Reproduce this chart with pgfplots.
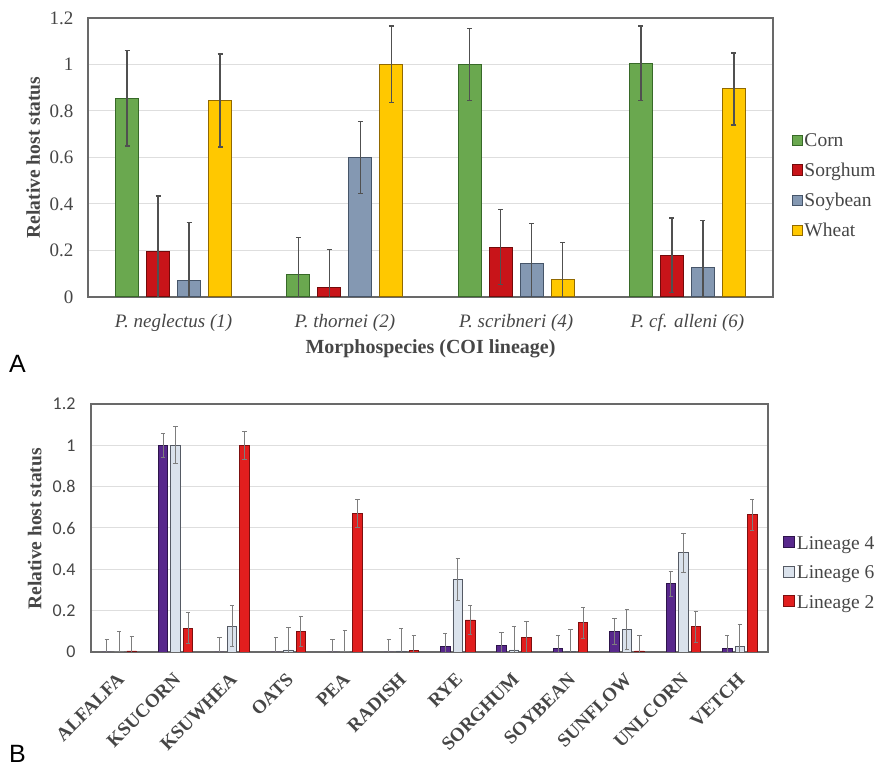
\documentclass[border=0pt]{standalone}
\usepackage{pgfplots}
\pgfplotsset{compat=1.18}
\usepackage{pgfplotstable}
\usepackage{fontspec}
\setmainfont{Liberation Serif}
\newfontfamily\carlito{Carlito}
\newfontfamily\arialf{Liberation Sans}

\definecolor{corn}{RGB}{106,168,79}
\definecolor{cornd}{RGB}{55,105,40}
\definecolor{sorg}{RGB}{200,20,25}
\definecolor{sorgd}{RGB}{115,10,10}
\definecolor{soy}{RGB}{132,152,178}
\definecolor{soyd}{RGB}{70,85,105}
\definecolor{wheat}{RGB}{255,200,0}
\definecolor{wheatd}{RGB}{145,105,0}
\definecolor{lin4}{RGB}{88,40,140}
\definecolor{lin4d}{RGB}{45,20,75}
\definecolor{lin6}{RGB}{218,226,236}
\definecolor{lin6d}{RGB}{85,90,100}
\definecolor{lin2}{RGB}{225,30,30}
\definecolor{lin2d}{RGB}{125,15,15}
\definecolor{errg}{RGB}{80,80,80}
\definecolor{errgb}{RGB}{125,125,125}
\definecolor{gridg}{RGB}{222,222,222}
\definecolor{frameg}{RGB}{105,105,105}
\definecolor{txtg}{RGB}{70,70,70}

\pgfplotstableread{
g corn cornerr sorg sorgerr soy soyerr wheat wheaterr
0 0.855 0.205 0.195 0.240 0.070 0.250 0.845 0.200
1 0.095 0.160 0.040 0.165 0.600 0.155 1.000 0.165
2 1.000 0.155 0.215 0.160 0.145 0.170 0.075 0.160
3 1.005 0.160 0.180 0.160 0.125 0.205 0.895 0.155
}\tabA

\pgfplotstableread{
g l4 e4 l6 e6 l2 e2
0  0.000 0.060 0.000 0.097 0.005 0.071
1  1.000 0.057 1.000 0.090 0.115 0.075
2  0.000 0.068 0.125 0.100 1.000 0.068
3  0.000 0.068 0.010 0.107 0.100 0.073
4  0.000 0.060 0.000 0.105 0.670 0.070
5  0.000 0.061 0.005 0.108 0.007 0.074
6  0.025 0.064 0.350 0.100 0.155 0.070
7  0.030 0.062 0.010 0.111 0.072 0.077
8  0.018 0.061 0.003 0.107 0.142 0.075
9  0.100 0.062 0.110 0.098 0.005 0.074
10 0.330 0.060 0.480 0.093 0.122 0.074
11 0.017 0.062 0.027 0.104 0.665 0.075
}\tabB

\begin{document}
\begin{tikzpicture}[x=1pt,y=1pt]
\useasboundingbox (0,0) rectangle (892,767);

% ---------------- Panel A ----------------
\begin{axis}[
  at={(88pt,470pt)}, anchor=south west,
  width=685pt, height=279pt, scale only axis,
  xmin=-0.5, xmax=3.5, ymin=0, ymax=1.2,
  ybar=8pt, bar width=23pt,
  xtick={0,1,2,3},
  xticklabels={P. neglectus (1), P. thornei (2), P. scribneri (4), P. cf. alleni (6)},
  ytick={0,0.2,0.4,0.6,0.8,1,1.2},
  ymajorgrids, grid style={gridg, line width=1pt},
  axis line style={frameg, line width=1.2pt},
  major tick length=0pt,
  /pgf/number format/assume math mode=true,
  tick label style={font=\fontsize{19}{22}\selectfont, text=txtg},
  xticklabel style={font=\itshape\fontsize{19}{22}\selectfont, anchor=base, yshift=-31pt},
  yticklabel style={xshift=-11pt},
  ylabel={Relative host status},
  ylabel style={font=\bfseries\fontsize{19.5}{22}\selectfont, text=txtg, at={(axis description cs:-0.080,0.5)}, anchor=center},
  xlabel={Morphospecies (COI lineage)},
  xlabel style={font=\bfseries\fontsize{20}{22}\selectfont, text=txtg, at={(axis description cs:0.5,-0.186)}, anchor=center},
  legend style={at={(axis description cs:1.027,0.397)}, anchor=west, draw=none, fill=none,
    font=\fontsize{19.5}{22}\selectfont, text=txtg, inner sep=0pt, row sep=11pt},
  legend cell align=left,
  legend image code/.code={\draw[#1, line width=0.8pt] (0pt,-4pt) rectangle (10pt,6pt);},
  error bars/y dir=both, error bars/y explicit,
  error bars/error mark=|,
  error bars/error bar style={errg, line width=1.3pt},
  error bars/error mark options={errg, line width=1.3pt, mark size=2.5pt},
]
\addplot[fill=corn, draw=cornd, line width=1pt] table[x=g, y=corn, y error=cornerr] {\tabA};
\addlegendentry{Corn}
\addplot[fill=sorg, draw=sorgd, line width=1pt] table[x=g, y=sorg, y error=sorgerr] {\tabA};
\addlegendentry{Sorghum}
\addplot[fill=soy, draw=soyd, line width=1pt] table[x=g, y=soy, y error=soyerr] {\tabA};
\addlegendentry{Soybean}
\addplot[fill=wheat, draw=wheatd, line width=1pt] table[x=g, y=wheat, y error=wheaterr] {\tabA};
\addlegendentry{Wheat}
\end{axis}

% ---------------- Panel B ----------------
\begin{axis}[
  at={(91pt,115pt)}, anchor=south west,
  width=677pt, height=248pt, scale only axis,
  xmin=-0.5, xmax=11.5, ymin=0, ymax=1.2,
  ybar=3pt, bar width=9.5pt,
  xtick={0,...,11},
  xticklabels={ALFALFA,KSUCORN,KSUWHEA,OATS,PEA,RADISH,RYE,SORGHUM,SOYBEAN,SUNFLOW,UNLCORN,VETCH},
  ytick={0,0.2,0.4,0.6,0.8,1,1.2},
  ymajorgrids, grid style={gridg, line width=1pt},
  axis line style={frameg, line width=1.2pt},
  major tick length=0pt,
  /pgf/number format/assume math mode=true,
  yticklabel style={font=\carlito\fontsize{18}{21}\selectfont, text=txtg, xshift=-12pt},
  xticklabel style={font=\bfseries\fontsize{19}{22}\selectfont, text=txtg, xshift=-3pt, yshift=-15pt, rotate=45, anchor=north east},
  ylabel={Relative host status},
  ylabel style={font=\bfseries\fontsize{19.5}{22}\selectfont, text=txtg, at={(axis description cs:-0.083,0.496)}, anchor=center},
  legend style={at={(axis description cs:1.022,0.318)}, anchor=west, draw=none, fill=none,
    font=\fontsize{19.5}{22}\selectfont, text=txtg, inner sep=0pt, row sep=11pt},
  legend cell align=left,
  legend image code/.code={\draw[#1, line width=0.8pt] (0pt,-4pt) rectangle (11pt,7pt);},
  error bars/y dir=both, error bars/y explicit,
  error bars/error mark=|,
  error bars/error bar style={errgb, line width=1pt},
  error bars/error mark options={errgb, line width=1pt, mark size=2.2pt},
]
\addplot[fill=lin4, draw=lin4d, line width=0.8pt] table[x=g, y=l4, y error=e4] {\tabB};
\addlegendentry{Lineage 4}
\addplot[fill=lin6, draw=lin6d, line width=0.8pt] table[x=g, y=l6, y error=e6] {\tabB};
\addlegendentry{Lineage 6}
\addplot[fill=lin2, draw=lin2d, line width=0.8pt] table[x=g, y=l2, y error=e2] {\tabB};
\addlegendentry{Lineage 2}
\end{axis}

\node[anchor=base west, inner sep=0pt, font=\arialf\fontsize{25}{30}\selectfont, text=black] at (9,394) {A};
\node[anchor=base west, inner sep=0pt, font=\arialf\fontsize{25}{30}\selectfont, text=black] at (9,4) {B};
\end{tikzpicture}
\end{document}
